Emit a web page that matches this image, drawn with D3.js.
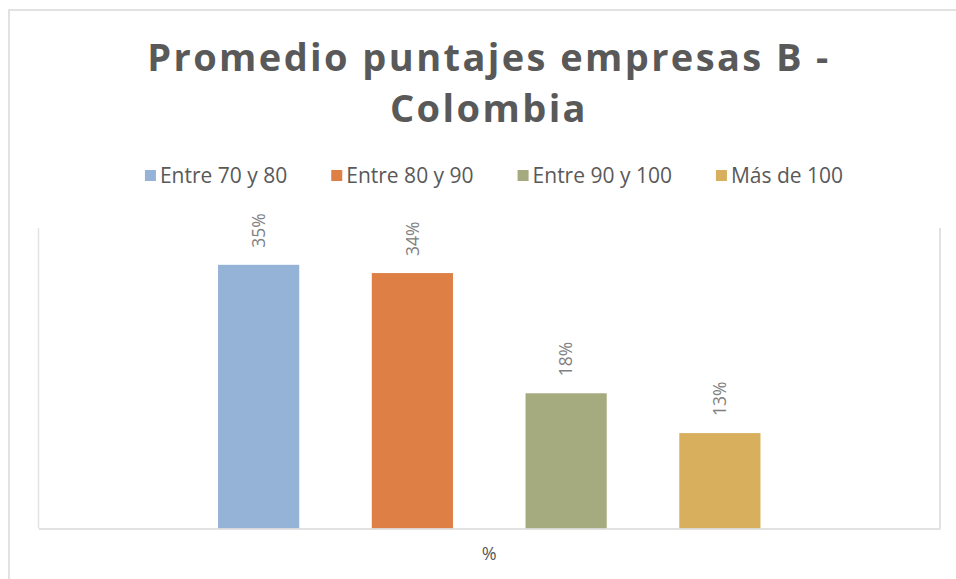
<!DOCTYPE html>
<html>
<head>
<meta charset="utf-8">
<script src="https://cdn.jsdelivr.net/npm/d3@7"></script>
<style>
  body { margin: 0; background: #fff; }
  text { font-family: "Open Sans", sans-serif; }
</style>
</head>
<body>
<div id="chart"></div>
<script>
// data
var categories = ["%"];
var seriesNames = ["Entre 70 y 80", "Entre 80 y 90", "Entre 90 y 100", "Más de 100"];
var seriesValues = [35.1, 34.0, 18.0, 12.7];
var seriesColors = ["#95b3d6", "#de7f46", "#a5aa7f", "#d8b05d"];
var titleLines = ["Promedio puntajes empresas B -", "Colombia"];

var W = 956, H = 579;
var margin = {top: 228, right: 16, bottom: 50.5, left: 38.5},
    width = W - margin.left - margin.right,
    height = H - margin.top - margin.bottom;

var svg = d3.select("#chart")
  .append("svg")
    .attr("width", W)
    .attr("height", H);

// outer chart frame (runs off the right and bottom edges)
svg.append("rect")
  .attr("x", 9).attr("y", 10)
  .attr("width", 1000).attr("height", 700)
  .attr("fill", "none")
  .attr("stroke", "#d9d9d9")
  .attr("stroke-width", 1.5);

// title
var title = svg.append("text")
  .attr("text-anchor", "middle")
  .attr("fill", "#595959")
  .style("font-size", "38px")
  .style("font-weight", "bold")
  .style("letter-spacing", "2.4px");
title.selectAll("tspan")
  .data(titleLines)
  .enter().append("tspan")
    .attr("x", 489)
    .attr("y", function(d, i) { return 71 + i * 51; })
    .text(function(d) { return d; });

// legend
var legend = svg.append("g");
var items = legend.selectAll("g")
  .data(seriesNames)
  .enter().append("g");
items.append("rect")
  .attr("width", 11).attr("height", 11)
  .attr("y", -6)
  .attr("fill", function(d, i) { return seriesColors[i]; });
items.append("text")
  .attr("x", 15)
  .attr("dy", "0.35em")
  .attr("fill", "#595959")
  .style("font-size", "21px")
  .text(function(d) { return d; });
var pos = 0, gap = 44;
items.each(function() {
  var g = d3.select(this);
  g.attr("transform", "translate(" + pos + ",0)");
  pos += 15 + g.select("text").node().getComputedTextLength() + gap;
});
pos -= gap;
legend.attr("transform", "translate(" + (494 - pos / 2) + ",176)");

var plot = svg.append("g")
  .attr("transform", "translate(" + margin.left + "," + margin.top + ")");

// scales
var x0 = d3.scaleBand()
  .domain(categories)
  .range([0, width])
  .paddingOuter(0.331);
var x1 = d3.scaleBand()
  .domain(seriesNames)
  .range([0, x0.bandwidth()])
  .paddingInner(0.472)
  .paddingOuter(0);
var y = d3.scaleLinear()
  .domain([0, 40])
  .range([height, 0]);

// plot area side borders
plot.append("line")
  .attr("x1", 0).attr("x2", 0).attr("y1", 0).attr("y2", height)
  .attr("stroke", "#e3e3e3").attr("stroke-width", 1.5);
plot.append("line")
  .attr("x1", width).attr("x2", width).attr("y1", 0).attr("y2", height)
  .attr("stroke", "#d9d9d9").attr("stroke-width", 1.5);

// bars
var group = plot.selectAll(".grp")
  .data(categories)
  .enter().append("g")
    .attr("class", "grp")
    .attr("transform", function(d) { return "translate(" + x0(d) + ",0)"; });

group.selectAll("rect")
  .data(seriesNames)
  .enter().append("rect")
    .attr("x", function(d) { return x1(d); })
    .attr("y", function(d, i) { return y(seriesValues[i]); })
    .attr("width", x1.bandwidth())
    .attr("height", function(d, i) { return height - y(seriesValues[i]); })
    .attr("fill", function(d, i) { return seriesColors[i]; });

// data labels, rotated
var fmt = d3.format(".0f");
group.selectAll(".lbl")
  .data(seriesNames)
  .enter().append("text")
    .attr("class", "lbl")
    .attr("transform", function(d, i) {
      return "translate(" + (x1(d) + x1.bandwidth() / 2) + "," + (y(seriesValues[i]) - 17) + ") rotate(-90)";
    })
    .attr("dy", "0.35em")
    .attr("fill", "#808080")
    .style("font-size", "17.5px")
    .text(function(d, i) { return fmt(seriesValues[i]) + "%"; });

// x axis
var xAxis = plot.append("g")
  .attr("transform", "translate(0," + height + ")")
  .call(d3.axisBottom(x0).tickSize(0).tickPadding(19));
xAxis.select(".domain")
  .attr("stroke", "#d9d9d9")
  .attr("stroke-width", 1.5);
xAxis.selectAll("text")
  .attr("fill", "#595959")
  .style("font-family", "'Open Sans', sans-serif")
  .style("font-size", "18px");
</script>
</body>
</html>
